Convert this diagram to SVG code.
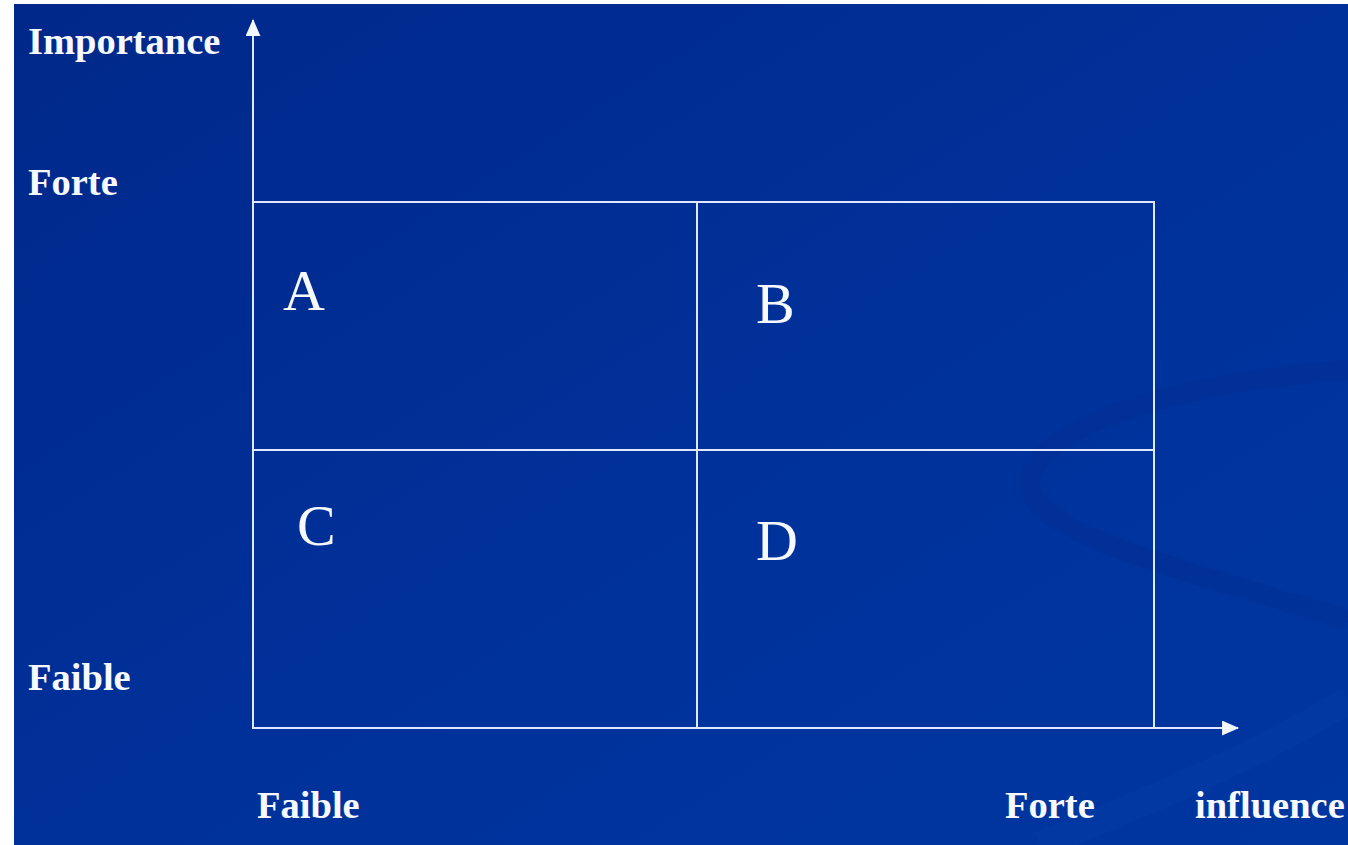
<svg xmlns="http://www.w3.org/2000/svg" width="1348" height="845" viewBox="0 0 1348 845">
<defs>
<linearGradient id="bg" x1="0" y1="0" x2="1" y2="1">
<stop offset="0" stop-color="#00288a"/>
<stop offset="0.6" stop-color="#00329c"/>
<stop offset="1" stop-color="#0036a0"/>
</linearGradient>
<marker id="arr" viewBox="0 0 16 14" refX="15" refY="7" markerWidth="17" markerHeight="15" markerUnits="userSpaceOnUse" orient="auto">
<path d="M0,0 L16,7 L0,14 Z" fill="#f4f7ff"/>
</marker>
<style>
.lbl{font-family:"Liberation Serif","Times New Roman",serif;font-weight:bold;font-size:38.5px;fill:#f7f9ff}
.q{font-family:"Liberation Serif","Times New Roman",serif;font-size:58px;fill:#f7f9ff}
.ln{stroke:#dfe8ff;stroke-width:2;fill:none}
</style>
</defs>
<rect x="0" y="0" width="1348" height="845" fill="#ffffff"/>
<rect x="14" y="4" width="1334" height="841" fill="url(#bg)"/>
<path d="M1348,370 C1200,380 1040,420 1030,480 C1025,530 1150,560 1348,620" fill="none" stroke="#002a88" stroke-width="20" opacity="0.22"/>
<path d="M1348,700 C1250,760 1150,800 1040,845" fill="none" stroke="#0a44b0" stroke-width="28" opacity="0.2"/>
<g id="connectors">
<line class="ln" x1="253" y1="729" x2="253" y2="20" marker-end="url(#arr)"/>
<line class="ln" x1="253" y1="728" x2="1238" y2="728" marker-end="url(#arr)"/>
</g>
<g id="grid">
<rect class="ln" x="253" y="202" width="901" height="526"/>
<line class="ln" x1="697" y1="202" x2="697" y2="728"/>
<line class="ln" x1="253" y1="450" x2="1154" y2="450"/>
</g>
<g id="qA"><text class="q" x="283" y="310">A</text></g>
<g id="qB"><text class="q" x="756" y="323">B</text></g>
<g id="qC"><text class="q" x="297" y="545">C</text></g>
<g id="qD"><text class="q" x="756" y="560">D</text></g>
<g id="labels">
<text class="lbl" x="28" y="54">Importance</text>
<text class="lbl" x="28" y="195">Forte</text>
<text class="lbl" x="28" y="690">Faible</text>
<text class="lbl" x="257" y="818">Faible</text>
<text class="lbl" x="1005" y="818">Forte</text>
<text class="lbl" x="1195" y="818">influence</text>
</g>
</svg>
